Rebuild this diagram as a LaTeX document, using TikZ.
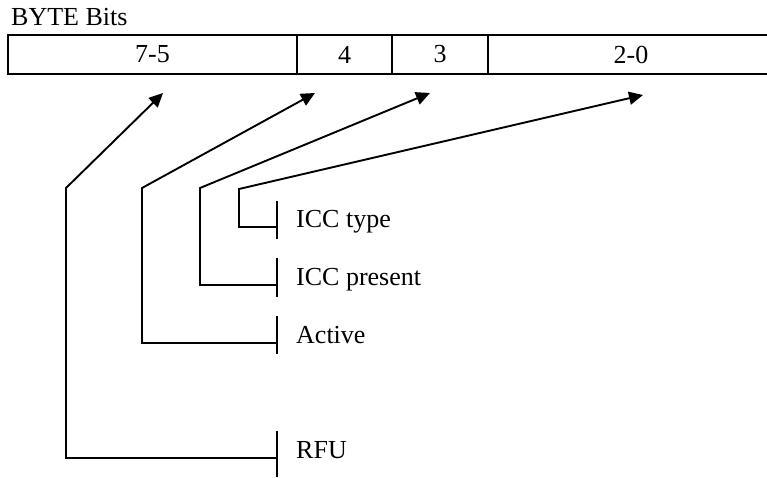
\documentclass[tikz,border=0pt]{standalone}
\usepackage{fontspec}
\setmainfont{Liberation Serif}
\usetikzlibrary{arrows.meta}
\begin{document}
\begin{tikzpicture}[x=1pt,y=-1pt,
  font=\fontsize{26}{31}\selectfont,
  cell/.style={draw,line width=2.2pt,minimum height=39pt,inner sep=0pt},
  lbl/.style={anchor=base west,inner sep=0pt},
  conn/.style={line width=1.9pt,-{Triangle[length=14pt,width=13pt]}},
  tick/.style={line width=1.9pt}]
\useasboundingbox (0,0) rectangle (767,477);
\clip (0,0) rectangle (767,477);
% title
\node[anchor=base west,inner sep=0pt] (title) at (11,25) {BYTE Bits};
% byte cells
\node[cell,minimum width=289pt] (c75) at (152.5,54.5) {7-5};
\node[cell,minimum width=95pt]  (c4)  at (344.5,54.5) {4};
\node[cell,minimum width=96pt]  (c3)  at (440,54.5) {3};
\node[cell,minimum width=286pt] (c20) at (631,54.5) {2-0};
% labels
\node[lbl] (type)    at (296,227) {ICC type};
\node[lbl] (present) at (296,285) {ICC present};
\node[lbl] (active)  at (296,343) {Active};
\node[lbl] (rfu)     at (296,458) {RFU};
% tick points
\coordinate (tT) at (277,227);
\coordinate (tP) at (277,285);
\coordinate (tA) at (277,343);
\coordinate (tR) at (277,458);
\draw[tick] (277,201) -- (277,239);
\draw[tick] (277,258) -- (277,297);
\draw[tick] (277,316) -- (277,354);
\draw[tick] (277,431) -- (277,477);
% bends
\coordinate (bT) at (239,189);
\coordinate (bP) at (200,188);
\coordinate (bA) at (142,188);
\coordinate (bR) at (66,188);
% arrow tips
\coordinate (aT) at (643,95);
\coordinate (aP) at (430,93);
\coordinate (aA) at (315,93);
\coordinate (aR) at (163,93);
% connectors
\draw[conn] (tT) -| (bT) -- (aT);
\draw[conn] (tP) -| (bP) -- (aP);
\draw[conn] (tA) -| (bA) -- (aA);
\draw[conn] (tR) -| (bR) -- (aR);
\end{tikzpicture}
\end{document}
